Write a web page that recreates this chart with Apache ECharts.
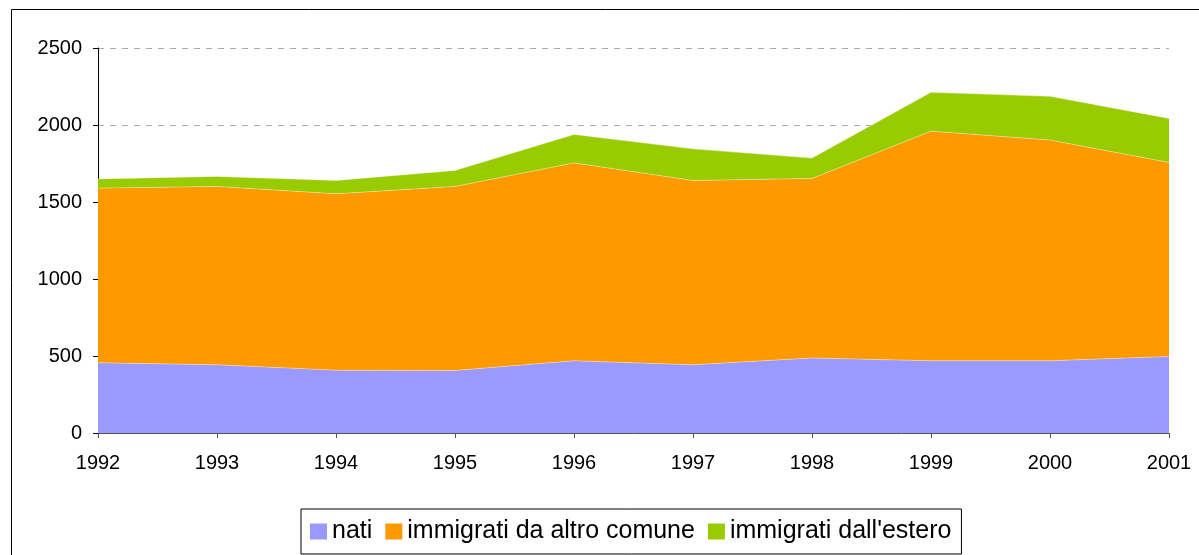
<!DOCTYPE html>
<html>
<head>
<meta charset="utf-8">
<script src="https://cdn.jsdelivr.net/npm/echarts@6/dist/echarts.min.js"></script>
<style>
  html, body { margin: 0; padding: 0; background: #fff; }
  #main { width: 1199px; height: 555px; }
</style>
</head>
<body>
<div id="main"></div>
<script>
// dati
const anni = ['1992', '1993', '1994', '1995', '1996', '1997', '1998', '1999', '2000', '2001'];
const nati = [456, 443, 408, 406, 469, 443, 487, 469, 469, 497];
const altroComune = [1134, 1158, 1145, 1195, 1285, 1197, 1166, 1491, 1433, 1260];
const estero = [60, 65, 87, 104, 185, 205, 132, 252, 284, 286];
const yTicks = [0, 500, 1000, 1500, 2000, 2500];

const chart = echarts.init(document.getElementById('main'));
const font = 'Liberation Sans, Arial, sans-serif';

function area(name, data, color) {
    return {
        name: name,
        type: 'line',
        stack: 'tot',
        data: data,
        symbol: 'none',
        itemStyle: { color: color },
        lineStyle: { width: 1, color: 'rgba(255,255,255,0.35)' },
        areaStyle: { color: color, opacity: 1 }
    };
}

chart.setOption({
    animation: false,
    graphic: [{
        type: 'rect',
        shape: { x: 11.5, y: 9.5, width: 1200, height: 560 },
        style: { fill: 'none', stroke: '#000', lineWidth: 1 },
        z: -10
    }],
    grid: { left: 98, right: 30, top: 48, bottom: 122, containLabel: false },
    legend: {
        left: 301,
        top: 509,
        data: ['nati', 'immigrati da altro comune', 'immigrati dall\'estero'],
        icon: 'rect',
        itemWidth: 17,
        itemHeight: 16,
        itemGap: 13,
        padding: [10, 10, 10, 9],
        borderColor: '#000',
        borderWidth: 1,
        textStyle: { fontFamily: font, fontSize: 25, lineHeight: 23, color: '#000' }
    },
    xAxis: {
        type: 'category',
        boundaryGap: false,
        data: anni,
        axisLine: { lineStyle: { color: '#555', width: 1 } },
        axisTick: { show: true, length: 5, lineStyle: { color: '#555' } },
        axisLabel: { fontFamily: font, fontSize: 20, color: '#000', margin: 20 }
    },
    yAxis: {
        type: 'value',
        min: yTicks[0],
        max: yTicks[yTicks.length - 1],
        interval: 500,
        axisLine: { show: true, lineStyle: { color: '#000', width: 1 } },
        axisTick: { show: true, length: 5, lineStyle: { color: '#000' } },
        axisLabel: { fontFamily: font, fontSize: 20, color: '#000', margin: 16, formatter: v => String(v) },
        splitLine: { show: true, lineStyle: { color: '#aaa', type: [6, 6], width: 1 } }
    },
    series: [
        area('nati', nati, '#9999FF'),
        area('immigrati da altro comune', altroComune, '#FF9900'),
        area('immigrati dall\'estero', estero, '#99CC00')
    ]
});
</script>
</body>
</html>
